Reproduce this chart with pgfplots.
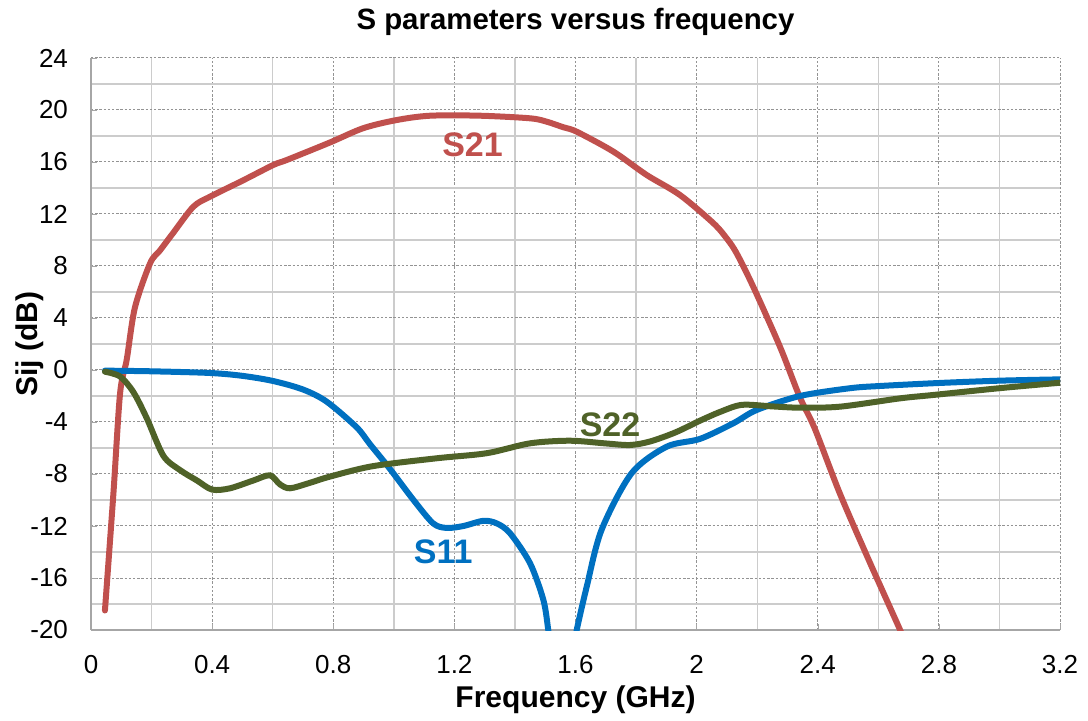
\documentclass[border=0pt]{standalone}
\usepackage{fontspec}
\setmainfont{Liberation Sans}
\usepackage{pgfplots}
\pgfplotsset{compat=1.18}
\definecolor{cred}{HTML}{C0504D}
\definecolor{cblue}{HTML}{0070C0}
\definecolor{cgreen}{HTML}{4F6228}
\begin{document}
\begin{tikzpicture}
\begin{axis}[
  scale only axis, width=484.5pt, height=286pt,
  xmin=0, xmax=3.2, ymin=-20, ymax=24,
  xtick={0,0.4,0.8,1.2,1.6,2,2.4,2.8,3.2},
  xticklabels={0,0.4,0.8,1.2,1.6,2,2.4,2.8,3.2},
  ytick={-20,-16,-12,-8,-4,0,4,8,12,16,20,24},
  yticklabels={-20,-16,-12,-8,-4,0,4,8,12,16,20,24},
  minor tick num=1,
  grid=both,
  major grid style={gray!85, dash pattern=on 1.2pt off 0.9pt, line width=0.5pt},
  minor grid style={gray!40, line width=0.7pt},
  axis x line*=bottom, axis y line*=left,
  axis line style={gray!70, line width=0.8pt},
  tick style={gray!70}, major tick length=3pt, minor tick length=0pt,
  ticklabel style={font=\fontsize{13}{15}\selectfont},
  xticklabel style={yshift=-9pt},
  yticklabel style={xshift=-8pt},
  title={S parameters versus frequency},
  title style={font=\bfseries\fontsize{14.7}{17}\selectfont, inner sep=0pt, at={(axis description cs:0.5,1)}, anchor=center, yshift=12pt},
  xlabel={Frequency (GHz)},
  xlabel style={font=\bfseries\fontsize{15}{17}\selectfont, inner sep=0pt, at={(axis description cs:0.5,0)}, anchor=center, yshift=-35pt},
  ylabel={Sij (dB)},
  ylabel style={font=\bfseries\fontsize{15}{17}\selectfont, inner sep=0pt, at={(axis description cs:0,0.5)}, anchor=center, yshift=30.5pt},
  clip=true,
]
% S21
\addplot[cred, line width=3pt, smooth, tension=0.5, line cap=round] coordinates {
(0.046,-18.5)(0.074,-9.5)(0.096,-1.8)(0.118,0.8)(0.145,4.8)(0.195,8.2)(0.228,9.2)
(0.27,10.5)(0.338,12.56)(0.393,13.33)(0.5,14.56)(0.602,15.77)(0.646,16.15)(0.789,17.5)
(0.899,18.6)(1.01,19.23)(1.12,19.56)(1.285,19.56)(1.45,19.36)(1.505,19.1)(1.56,18.67)
(1.604,18.33)(1.725,16.8)(1.835,15.0)(1.945,13.46)(2.055,11.3)(2.10,10.1)(2.132,8.98)(2.187,6.4)
(2.275,1.8)(2.34,-2.05)(2.39,-4.5)(2.473,-9.5)(2.57,-14.7)(2.672,-20)(2.68,-20.5)
};
% S11 first branch
\addplot[cblue, line width=3pt, smooth, tension=0.5, line cap=round] coordinates {
(0.046,-0.05)(0.2,-0.1)(0.393,-0.23)(0.5,-0.45)(0.602,-0.85)(0.7,-1.5)(0.778,-2.43)
(0.877,-4.4)(0.921,-5.7)(0.987,-7.6)(1.065,-10.0)(1.13,-11.8)(1.175,-12.15)(1.23,-12.0)
(1.296,-11.6)(1.34,-11.8)(1.384,-12.56)(1.45,-14.87)(1.494,-17.7)(1.51,-20)(1.515,-21)
};
% S11 second branch
\addplot[cblue, line width=3pt, smooth, tension=0.5, line cap=round] coordinates {
(1.598,-21)(1.604,-20)(1.637,-16.67)(1.686,-12.3)(1.785,-7.95)(1.901,-5.9)(2.011,-5.3)
(2.121,-4.1)(2.198,-3.08)(2.341,-2.0)(2.507,-1.4)(2.606,-1.23)(2.8,-1.0)(3.002,-0.82)(3.2,-0.72)
};
% S22
\addplot[cgreen, line width=3pt, smooth, tension=0.5, line cap=round] coordinates {
(0.046,-0.13)(0.096,-0.5)(0.14,-1.7)(0.184,-3.7)(0.239,-6.6)(0.294,-7.7)(0.35,-8.5)
(0.40,-9.2)(0.459,-9.1)(0.536,-8.5)(0.591,-8.1)(0.624,-8.8)(0.657,-9.1)(0.72,-8.7)
(0.789,-8.2)(0.93,-7.4)(1.142,-6.79)(1.307,-6.4)(1.45,-5.64)(1.582,-5.44)(1.7,-5.65)
(1.78,-5.77)(1.846,-5.5)(1.93,-4.8)(2.011,-3.9)(2.08,-3.2)(2.15,-2.68)(2.25,-2.8)
(2.341,-2.9)(2.474,-2.82)(2.672,-2.18)(2.782,-1.92)(3.0,-1.4)(3.2,-0.98)
};
\node[cred, font=\bfseries\fontsize{17}{20}\selectfont] at (axis cs:1.26,17.3) {S21};
\node[cblue, font=\bfseries\fontsize{17}{20}\selectfont] at (axis cs:1.163,-14.0) {S11};
\node[cgreen, font=\bfseries\fontsize{17}{20}\selectfont] at (axis cs:1.714,-4.2) {S22};
\end{axis}
\path ([xshift=-45.5pt,yshift=-45pt]current axis.south west) rectangle ([xshift=14pt,yshift=29pt]current axis.north east);
\end{tikzpicture}
\end{document}
